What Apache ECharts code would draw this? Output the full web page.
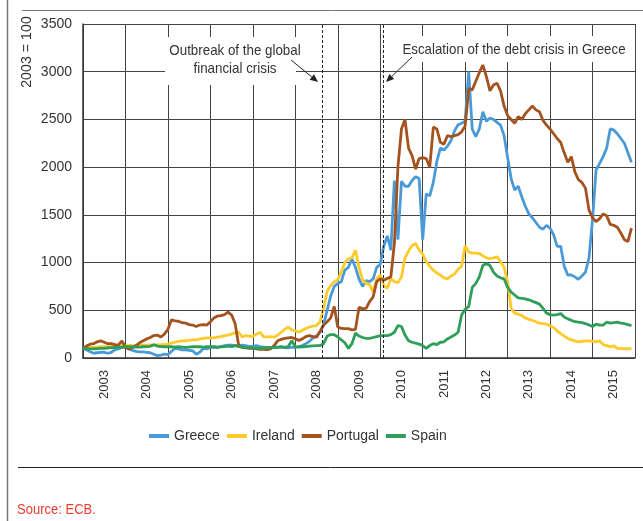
<!DOCTYPE html>
<html>
<head>
<meta charset="utf-8">
<script src="https://cdn.jsdelivr.net/npm/echarts@6/dist/echarts.min.js"></script>
<style>
html, body { margin: 0; padding: 0; background: #fff; }
#chart { width: 643px; height: 521px; }
</style>
</head>
<body>
<div id="chart"></div>
<script>
// monthly index values, 2003 = 100, Jan 2003 .. Dec 2015
var years = ['2003', '2004', '2005', '2006', '2007', '2008', '2009', '2010', '2011', '2012', '2013', '2014', '2015'];
var startYear = 2003;

var greece = [
  100, 85, 65, 50, 55, 60, 60, 50, 60, 85, 95, 110,
  115, 95, 80, 70, 65, 65, 60, 55, 40, 25, 30, 40,
  35, 70, 100, 95, 85, 85, 80, 75, 40, 60, 100, 95,
  110, 115, 110, 120, 130, 135, 135, 130, 130, 135, 130, 120,
  125, 130, 120, 115, 110, 110, 110, 110, 115, 110, 105, 115,
  110, 120, 130, 150, 175, 210, 230, 270, 350, 500, 650, 750,
  780, 800, 920, 950, 1040, 950, 830, 750, 810, 800, 830, 950,
  980, 1170, 1280, 1130, 1860, 1240, 1850, 1800, 1800, 1860, 1900, 1880,
  1240, 1720, 1700, 1840, 2060, 2200, 2180, 2220, 2280, 2380, 2445, 2460,
  2480, 3000, 2400, 2320, 2400, 2580, 2480, 2515, 2500, 2470, 2440, 2330,
  2100, 1880, 1760, 1800, 1690, 1590, 1510, 1470, 1420, 1370, 1350, 1390,
  1360, 1290, 1170, 1170, 960, 870, 870, 850, 825, 860, 900, 1050,
  1450, 1970, 2040, 2110, 2200, 2400, 2390, 2350, 2300, 2250, 2150, 2050
];
var ireland = [
  100, 105, 110, 112, 115, 118, 120, 120, 122, 120, 125, 128,
  130, 132, 130, 132, 135, 135, 135, 138, 135, 138, 140, 140,
  145, 155, 165, 175, 180, 180, 185, 190, 190, 200, 205, 210,
  210, 212, 220, 225, 235, 240, 250, 265, 270, 220, 235, 230,
  225, 250, 270, 225, 222, 225, 218, 240, 270, 300, 325, 295,
  285, 270, 290, 310, 325, 335, 340, 380, 520, 700, 760, 800,
  820, 900, 1000, 1040, 1050, 1130, 950, 820, 780, 770, 690, 830,
  870, 760, 730, 830, 800, 790, 850, 1050, 1120, 1180, 1200, 1130,
  1090, 1010, 960, 920, 890, 870, 840, 830, 860, 880, 930, 960,
  1180, 1110, 1100, 1100, 1095, 1070, 1050, 1040, 1050, 1060, 1010, 950,
  800, 520, 470, 460, 445, 420, 405, 395, 380, 365, 360, 355,
  335, 320, 285, 255, 230, 205, 190, 180, 168, 175, 180, 180,
  175, 170, 180, 140, 130, 116, 128, 100, 98, 98, 97, 98
];
var portugal = [
  100, 125, 145, 150, 170, 180, 165, 150, 150, 140, 135, 180,
  110, 95, 110, 130, 160, 180, 200, 215, 235, 240, 220, 250,
  300, 400, 390, 385, 370, 365, 350, 345, 330, 345, 350, 345,
  380, 420, 440, 445, 455, 480, 450, 360, 130, 110, 105, 100,
  100, 95, 90, 90, 88, 95, 130, 180, 195, 205, 210, 215,
  200, 185, 200, 225, 235, 225, 218, 280, 345, 380, 420, 540,
  326, 310, 308, 308, 295, 300, 530, 518, 520, 590, 640, 800,
  830, 816, 834, 850, 1200, 2000, 2400, 2500, 2200, 2120, 1980, 2090,
  2100, 2090, 2000, 2420, 2400, 2260, 2240, 2330, 2320, 2330, 2340, 2370,
  2430, 2820, 2810, 2900, 2990, 3070, 2950, 2800, 2860, 2880, 2800, 2640,
  2540, 2500, 2460, 2530, 2500, 2560, 2600, 2640, 2600, 2580, 2490, 2440,
  2400, 2350, 2300, 2260, 2150, 2050, 2110, 1950, 1870, 1840, 1780, 1550,
  1470, 1430, 1460, 1510, 1490, 1400, 1390, 1370, 1310, 1240, 1220, 1360
];
var spain = [
  100, 98, 95, 95, 98, 100, 102, 105, 108, 110, 112, 115,
  118, 120, 118, 115, 115, 118, 120, 122, 140, 125, 120, 118,
  120, 118, 115, 118, 115, 112, 115, 118, 120, 118, 115, 118,
  120, 118, 115, 118, 120, 125, 120, 130, 120, 115, 110, 108,
  105, 100, 102, 105, 108, 110, 112, 115, 118, 112, 120, 180,
  120, 115, 118, 120, 125, 128, 130, 130, 150, 230, 245, 245,
  220, 190, 160, 100, 150, 260, 230, 215, 205, 205, 215, 225,
  235, 235, 235, 245, 270, 340, 330, 240, 180, 165, 155, 145,
  130, 100, 130, 150, 140, 165, 170, 200, 220, 240, 270, 450,
  510, 540, 740, 780, 850, 970, 990, 970, 900, 860, 840, 830,
  740, 690, 660, 630, 625, 620, 610, 595, 580, 565, 520, 470,
  455, 450, 455, 465, 430, 410, 395, 380, 375, 370, 360, 345,
  330, 355, 345, 345, 375, 365, 370, 375, 365, 360, 350, 340
];
// dates of the two marked events (decimal years)
var eventDates = [2008.63, 2010.06];

function toPoints(arr) {
  var out = [];
  for (var i = 0; i < arr.length; i++) {
    out.push([startYear + i / 12, arr[i]]);
  }
  return out;
}

function arrow(x1, y1, x2, y2) {
  var ang = Math.atan2(y2 - y1, x2 - x1);
  var len = 8, w = 3.5;
  var bx = x2 - len * Math.cos(ang), by = y2 - len * Math.sin(ang);
  var px = -Math.sin(ang) * w, py = Math.cos(ang) * w;
  return [
    { type: 'line', z: 3, shape: { x1: x1, y1: y1, x2: bx, y2: by }, style: { stroke: '#222', lineWidth: 1 } },
    { type: 'polygon', z: 3, shape: { points: [[x2, y2], [bx + px, by + py], [bx - px, by - py]] }, style: { fill: '#222' } }
  ];
}

var font = 'Liberation Sans, Arial, sans-serif';
var colors = ['#4a9ad8', '#fccb2b', '#a4531f', '#2f9e58'];

var myChart = echarts.init(document.getElementById('chart'));
var option = {
  animation: false,
  color: colors,
  grid: { left: 83, right: 8, top: 24, bottom: 163 },
  xAxis: [
    {
      type: 'value', min: 2003, max: 2016, interval: 1,
      axisLabel: { show: false },
      axisTick: { show: false },
      axisLine: { show: true, lineStyle: { color: '#333', width: 1.5 } },
      splitLine: { show: true, lineStyle: { color: '#444', width: 1 } }
    },
    {
      type: 'category', data: years, position: 'bottom', boundaryGap: true,
      axisLine: { show: false },
      axisTick: { show: false },
      splitLine: { show: false },
      axisLabel: { rotate: 90, margin: 12, fontSize: 13, color: '#333', fontFamily: font }
    }
  ],
  yAxis: {
    type: 'value', min: 0, max: 3500, interval: 500,
    axisLine: { show: true, lineStyle: { color: '#333', width: 1.5 } },
    axisTick: { show: false },
    axisLabel: {
      margin: 11, fontSize: 14, color: '#333', fontFamily: font,
      formatter: function (v) { return String(v); }
    },
    splitLine: { lineStyle: { color: '#444', width: 1 } }
  },
  legend: {
    left: 144, top: 424,
    icon: 'rect', itemWidth: 20, itemHeight: 4, itemGap: 7,
    textStyle: { fontSize: 14, color: '#333', fontFamily: font },
    data: ['Greece', 'Ireland', 'Portugal', 'Spain']
  },
  series: [
    {
      name: 'Greece', type: 'line', showSymbol: false, data: toPoints(greece),
      lineStyle: { width: 2.8 },
      markLine: {
        silent: true, symbol: 'none', label: { show: false },
        lineStyle: { type: [3, 2], color: '#222', width: 1 },
        data: eventDates.map(function (d) { return { xAxis: d }; })
      }
    },
    { name: 'Ireland', type: 'line', showSymbol: false, data: toPoints(ireland), lineStyle: { width: 2.8 } },
    { name: 'Portugal', type: 'line', showSymbol: false, data: toPoints(portugal), lineStyle: { width: 2.8 } },
    { name: 'Spain', type: 'line', showSymbol: false, data: toPoints(spain), lineStyle: { width: 2.8 } }
  ],
  graphic: [
    // frame
    { type: 'line', shape: { x1: 7.5, y1: 0, x2: 7.5, y2: 521 }, style: { stroke: '#777', lineWidth: 1.5 } },
    { type: 'line', shape: { x1: 22, y1: 10.5, x2: 643, y2: 10.5 }, style: { stroke: '#777', lineWidth: 1 } },
    { type: 'line', shape: { x1: 18, y1: 467.5, x2: 643, y2: 467.5 }, style: { stroke: '#222', lineWidth: 1 } },
    // axis unit
    {
      type: 'text', x: 27, y: 52, rotation: Math.PI / 2, scaleX: 0.95,
      style: { text: '2003 = 100', fontSize: 15, fontFamily: font, fill: '#333', textAlign: 'center', textVerticalAlign: 'middle' }
    },
    // annotation boxes
    { type: 'rect', z: 1, shape: { x: 165, y: 37, width: 131, height: 48 }, style: { fill: '#fff' } },
    {
      type: 'text', z: 3, x: 235, y: 60, scaleX: 0.89,
      style: { text: 'Outbreak of the global\nfinancial crisis', fontSize: 15, lineHeight: 18, fontFamily: font, fill: '#333', textAlign: 'center', textVerticalAlign: 'middle' }
    },
    { type: 'rect', z: 1, shape: { x: 398, y: 36, width: 231, height: 26 }, style: { fill: '#fff' } },
    {
      type: 'text', z: 3, x: 514, y: 50, scaleX: 0.886,
      style: { text: 'Escalation of the debt crisis in Greece', fontSize: 15, fontFamily: font, fill: '#333', textAlign: 'center', textVerticalAlign: 'middle' }
    },
    // source
    {
      type: 'text', x: 17, y: 510, scaleX: 0.93,
      style: { text: 'Source: ECB.', fontSize: 14, fontFamily: font, fill: '#ee3b2f', textVerticalAlign: 'middle' }
    }
  ].concat(arrow(291, 60, 318, 82)).concat(arrow(412, 57, 386, 82))
};
myChart.setOption(option);
</script>
</body>
</html>
